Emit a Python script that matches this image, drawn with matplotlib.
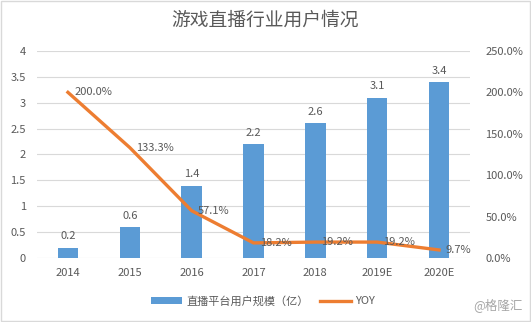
import matplotlib.pyplot as plt
from matplotlib.patches import Rectangle

plt.rcParams['font.family'] = ['Noto Sans CJK SC', 'DejaVu Sans']

years = ["2014", "2015", "2016", "2017", "2018", "2019E", "2020E"]
users = [0.2, 0.6, 1.4, 2.2, 2.6, 3.1, 3.4]
yoy = [200.0, 133.3, 57.1, 18.2, 19.2, 19.2, 9.7]

bar_color = "#5B9BD5"
line_color = "#ED7D31"
text_color = "#595959"

fig = plt.figure(figsize=(5.31, 3.22), dpi=100)
fig.patches.append(Rectangle((0.002, 0.003), 0.996, 0.994, transform=fig.transFigure,
                             fill=False, edgecolor="#D9D9D9", linewidth=1))
ax = fig.add_axes([0.0697, 0.1988, 0.8154, 0.643])
x = list(range(len(years)))

ax.bar(x, users, width=0.33, color=bar_color, zorder=2, label="直播平台用户规模（亿）")
ax.set_ylim(0, 4)
ax.set_xlim(-0.5, 6.5)
ax.set_yticks([0, 0.5, 1, 1.5, 2, 2.5, 3, 3.5, 4])
ax.set_yticklabels(["0", "0.5", "1", "1.5", "2", "2.5", "3", "3.5", "4"])
ax.set_xticks(x)
ax.set_xticklabels(years)
ax.grid(axis="y", color="#D9D9D9", linewidth=0.8, zorder=0)
for s in ax.spines.values():
    s.set_visible(False)
ax.tick_params(length=0, labelsize=8, colors=text_color)
ax.tick_params(axis="y", pad=8)
ax.tick_params(axis="x", pad=7)
for xi, v in zip(x, users):
    ax.text(xi, v + 0.12, f"{v}", ha="center", va="bottom", fontsize=8, color=text_color)

ax2 = ax.twinx()
ax2.plot(x, yoy, color=line_color, linewidth=2.4, zorder=3, label="YOY")
ax2.set_ylim(0, 250)
ax2.set_yticks([0, 50, 100, 150, 200, 250])
ax2.set_yticklabels([f"{t:.1f}%" for t in [0, 50, 100, 150, 200, 250]])
for s in ax2.spines.values():
    s.set_visible(False)
ax2.tick_params(length=0, labelsize=8, colors=text_color, pad=11)
for xi, v in zip(x, yoy):
    ax2.text(xi + 0.1, v, f"{v:.1f}%", ha="left", va="center", fontsize=8, color=text_color)

fig.suptitle("游戏直播行业用户情况", x=0.5, y=0.97, fontsize=13.5, color=text_color)

h1, l1 = ax.get_legend_handles_labels()
h2, l2 = ax2.get_legend_handles_labels()
fig.legend(h1 + h2, l1 + l2, loc="center", bbox_to_anchor=(0.495, 0.065), ncol=2,
           frameon=False, fontsize=8, labelcolor=text_color, handlelength=2.8,
           handleheight=0.6, columnspacing=1.0, handletextpad=0.4)

fig.text(0.985, 0.03, "@格隆汇", ha="right", va="bottom", fontsize=9, color="#A6A6A6")

fig.savefig("out.png", dpi=100)
